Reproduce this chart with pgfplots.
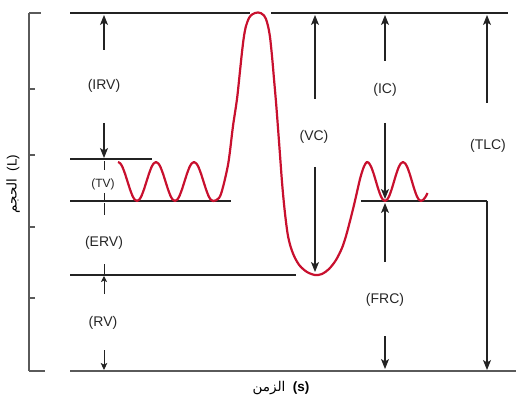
\documentclass[border=0pt]{standalone}
\usepackage{pgfplots}
\pgfplotsset{compat=1.18}
\usepackage{fontspec}
\setmainfont{Liberation Sans}
\newfontfamily\arabicfont[Script=Arabic]{DejaVu Sans}
\TeXXeTstate=1
\usetikzlibrary{arrows.meta}
\definecolor{curvered}{RGB}{200,16,46}
\definecolor{linegray}{RGB}{35,35,35}
\definecolor{axisgray}{RGB}{90,90,90}
\tikzset{big/.style={-{Stealth[length=10pt,width=8pt,inset=2.5pt]}},
         small/.style={-{Stealth[length=5pt,width=5pt,inset=1pt]}}}
\begin{document}
\begin{tikzpicture}
\begin{axis}[
  width=520pt, height=401pt, scale only axis,
  xmin=0, xmax=520, ymin=0, ymax=401, y dir=reverse,
  hide axis, clip=false,
]
\path (rel axis cs:0,0) rectangle (rel axis cs:1,1);
% axis line and ticks
\addplot[axisgray, line width=1.5pt] coordinates {(29,13) (29,371)};
\addplot[axisgray, line width=1.3pt] coordinates {(29,13) (41,13)};
\addplot[axisgray, line width=1.3pt] coordinates {(29,89) (35,89)};
\addplot[axisgray, line width=1.3pt] coordinates {(29,155) (35,155)};
\addplot[axisgray, line width=1.3pt] coordinates {(29,227) (35,227)};
\addplot[axisgray, line width=1.3pt] coordinates {(29,298) (35,298)};
\addplot[axisgray, line width=1.3pt] coordinates {(29,371) (45,371)};
\addplot[axisgray, line width=1.3pt] coordinates {(70,371) (516,371)};
% horizontal level lines
\addplot[linegray, line width=1.3pt] coordinates {(70,13) (250,13)};
\addplot[linegray, line width=1.3pt] coordinates {(271,13) (508,13)};
\addplot[linegray, line width=1.3pt] coordinates {(70,159) (152,159)};
\addplot[linegray, line width=1.3pt] coordinates {(70,201) (231,201)};
\addplot[linegray, line width=1.3pt] coordinates {(361,201) (487,201)};
\addplot[linegray, line width=1.3pt] coordinates {(70,275) (296,275)};
% TLC
\addplot[linegray, line width=1.1pt, big] coordinates {(487,103) (487,15)};
\addplot[linegray, line width=1.1pt, big] coordinates {(487,201) (487,370)};
% VC
\addplot[linegray, line width=1.1pt, big] coordinates {(315,99) (315,15)};
\addplot[linegray, line width=1.1pt, big] coordinates {(315,167) (315,272)};
% IC
\addplot[linegray, line width=1.1pt, big] coordinates {(385,61) (385,15)};
\addplot[linegray, line width=1.1pt, big] coordinates {(385,123) (385,199)};
% FRC
\addplot[linegray, line width=1.1pt, big] coordinates {(385,262) (385,203)};
\addplot[linegray, line width=1.1pt, big] coordinates {(385,336) (385,369)};
% IRV
\addplot[linegray, line width=1.1pt, big] coordinates {(104,50) (104,15)};
\addplot[linegray, line width=1.1pt, big] coordinates {(104,123) (104,158)};
% TV
\addplot[linegray, line width=0.9pt, small] coordinates {(104,170) (104,161)};
\addplot[linegray, line width=0.9pt, small] coordinates {(104,193) (104,200)};
% ERV
\addplot[linegray, line width=0.9pt, small] coordinates {(104,215) (104,203)};
\addplot[linegray, line width=0.9pt, small] coordinates {(104,264) (104,274)};
% RV
\addplot[linegray, line width=0.9pt, -{Stealth[length=6pt,width=6pt,inset=1.5pt]}] coordinates {(104,294) (104,276)};
\addplot[linegray, line width=0.9pt, -{Stealth[length=7pt,width=6.5pt,inset=1.5pt]}] coordinates {(104,350) (104,370)};
% spirogram curve
\addplot[curvered, line width=2.2pt, smooth, line join=round] coordinates {
(118,162) (120.4,163.5) (122.75,167.7) (125.1,174) (127.5,181.5) (129.9,189) (132.25,195.3) (134.6,199.5)
(137,201) (139.4,199.5) (141.75,195.3) (144.1,189) (146.5,181.5) (148.9,174) (151.25,167.7) (153.6,163.5)
(156,162) (158.4,163.5) (160.75,167.7) (163.1,174) (165.5,181.5) (167.9,189) (170.25,195.3) (172.6,199.5)
(175,201) (177.4,199.5) (179.75,195.3) (182.1,189) (184.5,181.5) (186.9,174) (189.25,167.7) (191.6,163.5)
(194,162) (196.4,163.5) (198.75,167.7) (201.1,174) (203.5,181.5) (205.9,189) (208.25,195.3) (210.6,199.5)
(213,201) (216,200.3) (219,198) (221,194) (223,187) (225,179) (228,165) (230,151) (233,126) (237,99)
(240,71) (242,52) (244,36) (246,26) (249,18) (252,14.5) (255,13) (258,12.5) (261,13.2) (264,15.5)
(266,19) (268,26) (270,37) (272,56) (274,79) (276,102) (278,128) (280,155) (282,182) (284,204)
(286,222) (288,236) (291,248) (295,258) (300,266) (307,272) (315,275) (322,274) (329,269) (336,260)
(342,248) (346,236) (350,221) (354,205) (357,192) (360,179) (363,169) (365,164.5) (367,162)
(369.25,163.5) (371.5,167.7) (373.75,174) (376,181.5) (378.25,189) (380.5,195.3) (382.75,199.5)
(385,201) (387.25,199.5) (389.5,195.3) (391.75,189) (394,181.5) (396.25,174) (398.5,167.7) (400.75,163.5)
(403,162) (405.25,163.5) (407.5,167.7) (409.75,174) (412,181.5) (414.25,189) (416.5,195.3) (418.75,199.5)
(421,201) (423.25,199.8) (425.5,197) (427.5,193)
};
% labels
\begin{scope}[every node/.style={font=\fontsize{14}{16}\selectfont, text=black!85}]
\node at (axis cs:104,86) {(IRV)};
\node[font=\fontsize{12}{14}\selectfont] at (axis cs:103,184) {(TV)};
\node at (axis cs:104,243) {(ERV)};
\node at (axis cs:103,323) {(RV)};
\node at (axis cs:314,137) {(VC)};
\node at (axis cs:385,90) {(IC)};
\node at (axis cs:488,146) {(TLC)};
\node at (axis cs:385,300) {(FRC)};
\end{scope}
\node[font=\fontsize{13.5}{15}\selectfont] at (axis cs:281,388) {{\arabicfont\beginR الزمن\endR}\ \ \textbf{(s)}};
\node[font=\fontsize{13.5}{15}\selectfont, rotate=90] at (axis cs:13,184) {{\arabicfont\beginR الحجم\endR}\ \ (L)};
\end{axis}
\end{tikzpicture}
\end{document}
